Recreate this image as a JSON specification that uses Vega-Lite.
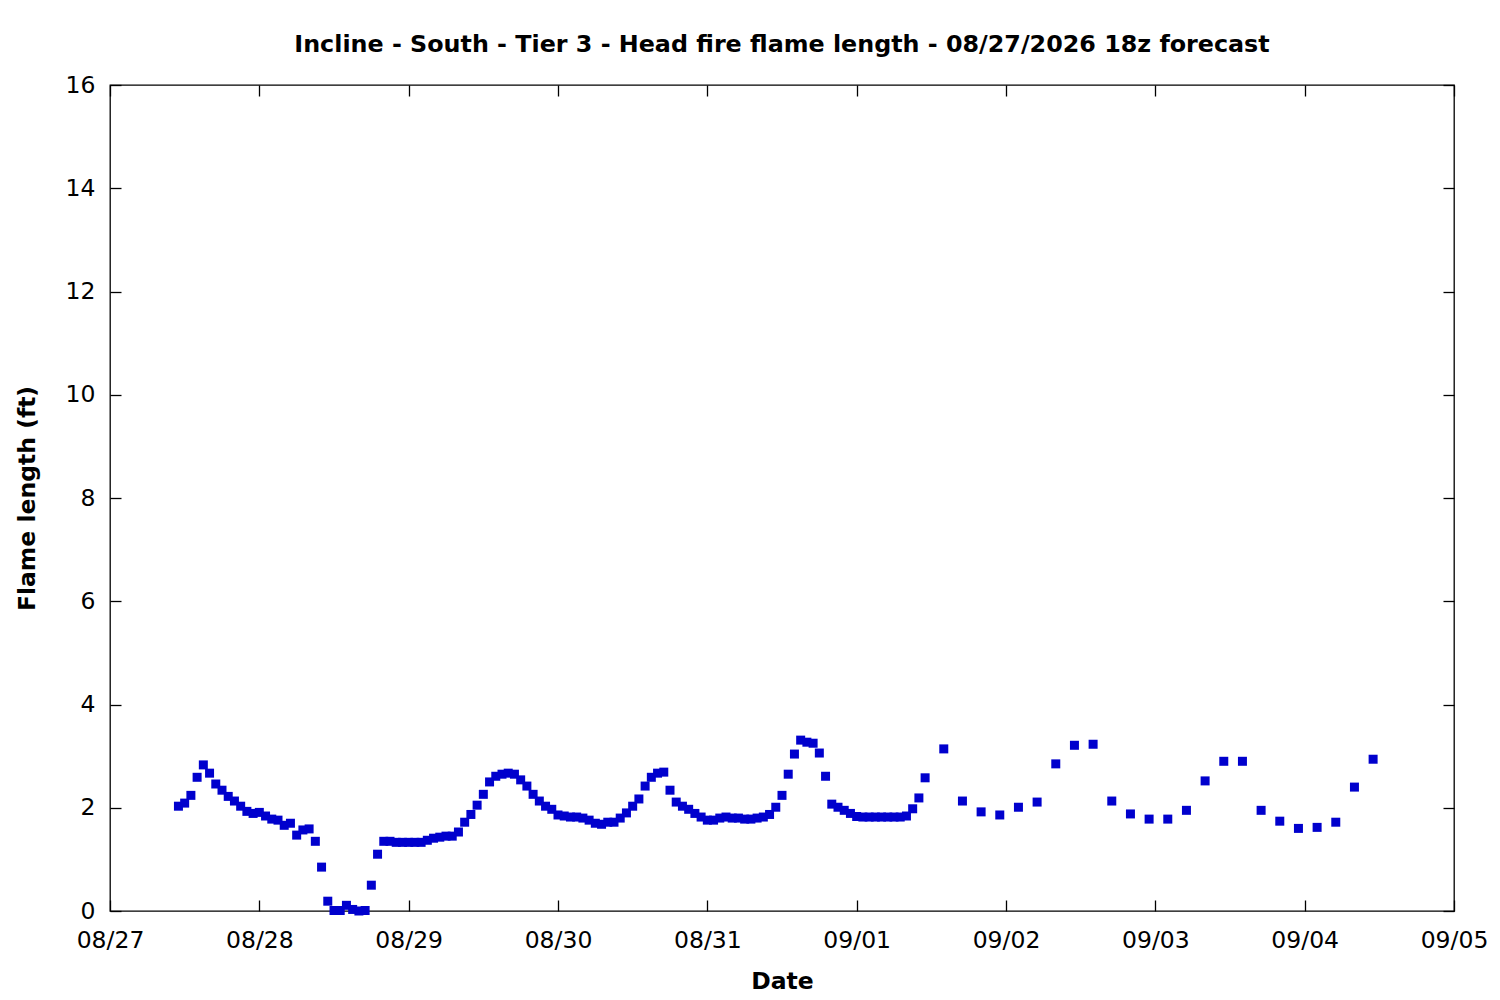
{
  "$schema": "https://vega.github.io/schema/vega-lite/v6.json",
  "width": 1344,
  "height": 826,
  "autosize": "none",
  "padding": {"left": 110, "top": 85, "right": 46, "bottom": 89},
  "background": "white",
  "title": {
    "text": "Incline - South - Tier 3 - Head fire flame length - 08/27/2026 18z forecast",
    "font": "DejaVu Sans",
    "fontSize": 23.8,
    "fontWeight": "bold",
    "color": "black",
    "anchor": "middle",
    "offset": 16
  },
  "data": {
    "values": [
      {"t": "2026-08-27T11:00", "v": 2.03}, {"t": "2026-08-27T12:00", "v": 2.09}, {"t": "2026-08-27T13:00", "v": 2.24},
      {"t": "2026-08-27T14:00", "v": 2.59}, {"t": "2026-08-27T15:00", "v": 2.83}, {"t": "2026-08-27T16:00", "v": 2.67},
      {"t": "2026-08-27T17:00", "v": 2.46}, {"t": "2026-08-27T18:00", "v": 2.34}, {"t": "2026-08-27T19:00", "v": 2.22},
      {"t": "2026-08-27T20:00", "v": 2.13}, {"t": "2026-08-27T21:00", "v": 2.03}, {"t": "2026-08-27T22:00", "v": 1.93},
      {"t": "2026-08-27T23:00", "v": 1.89},
      {"t": "2026-08-28T00:00", "v": 1.91}, {"t": "2026-08-28T01:00", "v": 1.84}, {"t": "2026-08-28T02:00", "v": 1.78},
      {"t": "2026-08-28T03:00", "v": 1.76}, {"t": "2026-08-28T04:00", "v": 1.66}, {"t": "2026-08-28T05:00", "v": 1.70},
      {"t": "2026-08-28T06:00", "v": 1.47}, {"t": "2026-08-28T07:00", "v": 1.57}, {"t": "2026-08-28T08:00", "v": 1.59},
      {"t": "2026-08-28T09:00", "v": 1.35}, {"t": "2026-08-28T10:00", "v": 0.85}, {"t": "2026-08-28T11:00", "v": 0.19},
      {"t": "2026-08-28T12:00", "v": 0.01}, {"t": "2026-08-28T13:00", "v": 0.01}, {"t": "2026-08-28T14:00", "v": 0.11},
      {"t": "2026-08-28T15:00", "v": 0.03}, {"t": "2026-08-28T16:00", "v": 0.0}, {"t": "2026-08-28T17:00", "v": 0.01},
      {"t": "2026-08-28T18:00", "v": 0.50}, {"t": "2026-08-28T19:00", "v": 1.10}, {"t": "2026-08-28T20:00", "v": 1.35},
      {"t": "2026-08-28T21:00", "v": 1.35}, {"t": "2026-08-28T22:00", "v": 1.33}, {"t": "2026-08-28T23:00", "v": 1.33},
      {"t": "2026-08-29T00:00", "v": 1.33}, {"t": "2026-08-29T01:00", "v": 1.33}, {"t": "2026-08-29T02:00", "v": 1.33},
      {"t": "2026-08-29T03:00", "v": 1.37}, {"t": "2026-08-29T04:00", "v": 1.41}, {"t": "2026-08-29T05:00", "v": 1.43},
      {"t": "2026-08-29T06:00", "v": 1.45}, {"t": "2026-08-29T07:00", "v": 1.45}, {"t": "2026-08-29T08:00", "v": 1.53},
      {"t": "2026-08-29T09:00", "v": 1.72}, {"t": "2026-08-29T10:00", "v": 1.87}, {"t": "2026-08-29T11:00", "v": 2.05},
      {"t": "2026-08-29T12:00", "v": 2.26}, {"t": "2026-08-29T13:00", "v": 2.50}, {"t": "2026-08-29T14:00", "v": 2.61},
      {"t": "2026-08-29T15:00", "v": 2.65}, {"t": "2026-08-29T16:00", "v": 2.67}, {"t": "2026-08-29T17:00", "v": 2.65},
      {"t": "2026-08-29T18:00", "v": 2.54}, {"t": "2026-08-29T19:00", "v": 2.42}, {"t": "2026-08-29T20:00", "v": 2.26},
      {"t": "2026-08-29T21:00", "v": 2.13}, {"t": "2026-08-29T22:00", "v": 2.03}, {"t": "2026-08-29T23:00", "v": 1.97},
      {"t": "2026-08-30T00:00", "v": 1.86}, {"t": "2026-08-30T01:00", "v": 1.84}, {"t": "2026-08-30T02:00", "v": 1.82},
      {"t": "2026-08-30T03:00", "v": 1.82}, {"t": "2026-08-30T04:00", "v": 1.80}, {"t": "2026-08-30T05:00", "v": 1.76},
      {"t": "2026-08-30T06:00", "v": 1.70}, {"t": "2026-08-30T07:00", "v": 1.68}, {"t": "2026-08-30T08:00", "v": 1.72},
      {"t": "2026-08-30T09:00", "v": 1.72}, {"t": "2026-08-30T10:00", "v": 1.80}, {"t": "2026-08-30T11:00", "v": 1.90},
      {"t": "2026-08-30T12:00", "v": 2.03}, {"t": "2026-08-30T13:00", "v": 2.17}, {"t": "2026-08-30T14:00", "v": 2.42},
      {"t": "2026-08-30T15:00", "v": 2.59}, {"t": "2026-08-30T16:00", "v": 2.67}, {"t": "2026-08-30T17:00", "v": 2.69},
      {"t": "2026-08-30T18:00", "v": 2.34}, {"t": "2026-08-30T19:00", "v": 2.11}, {"t": "2026-08-30T20:00", "v": 2.03},
      {"t": "2026-08-30T21:00", "v": 1.97}, {"t": "2026-08-30T22:00", "v": 1.89}, {"t": "2026-08-30T23:00", "v": 1.82},
      {"t": "2026-08-31T00:00", "v": 1.76}, {"t": "2026-08-31T01:00", "v": 1.76}, {"t": "2026-08-31T02:00", "v": 1.80},
      {"t": "2026-08-31T03:00", "v": 1.82}, {"t": "2026-08-31T04:00", "v": 1.80}, {"t": "2026-08-31T05:00", "v": 1.80},
      {"t": "2026-08-31T06:00", "v": 1.78}, {"t": "2026-08-31T07:00", "v": 1.78}, {"t": "2026-08-31T08:00", "v": 1.80},
      {"t": "2026-08-31T09:00", "v": 1.82}, {"t": "2026-08-31T10:00", "v": 1.87}, {"t": "2026-08-31T11:00", "v": 2.01},
      {"t": "2026-08-31T12:00", "v": 2.24}, {"t": "2026-08-31T13:00", "v": 2.65}, {"t": "2026-08-31T14:00", "v": 3.04},
      {"t": "2026-08-31T15:00", "v": 3.31}, {"t": "2026-08-31T16:00", "v": 3.27}, {"t": "2026-08-31T17:00", "v": 3.25},
      {"t": "2026-08-31T18:00", "v": 3.06}, {"t": "2026-08-31T19:00", "v": 2.61}, {"t": "2026-08-31T20:00", "v": 2.07},
      {"t": "2026-08-31T21:00", "v": 2.01}, {"t": "2026-08-31T22:00", "v": 1.95}, {"t": "2026-08-31T23:00", "v": 1.89},
      {"t": "2026-09-01T00:00", "v": 1.83}, {"t": "2026-09-01T01:00", "v": 1.82}, {"t": "2026-09-01T02:00", "v": 1.82},
      {"t": "2026-09-01T03:00", "v": 1.82}, {"t": "2026-09-01T04:00", "v": 1.82}, {"t": "2026-09-01T05:00", "v": 1.82},
      {"t": "2026-09-01T06:00", "v": 1.82}, {"t": "2026-09-01T07:00", "v": 1.82}, {"t": "2026-09-01T08:00", "v": 1.84},
      {"t": "2026-09-01T09:00", "v": 1.98}, {"t": "2026-09-01T10:00", "v": 2.19}, {"t": "2026-09-01T11:00", "v": 2.58},
      {"t": "2026-09-01T14:00", "v": 3.14}, {"t": "2026-09-01T17:00", "v": 2.13}, {"t": "2026-09-01T20:00", "v": 1.92},
      {"t": "2026-09-01T23:00", "v": 1.86},
      {"t": "2026-09-02T02:00", "v": 2.01}, {"t": "2026-09-02T05:00", "v": 2.11}, {"t": "2026-09-02T08:00", "v": 2.85},
      {"t": "2026-09-02T11:00", "v": 3.21}, {"t": "2026-09-02T14:00", "v": 3.23}, {"t": "2026-09-02T17:00", "v": 2.13},
      {"t": "2026-09-02T20:00", "v": 1.88}, {"t": "2026-09-02T23:00", "v": 1.78},
      {"t": "2026-09-03T02:00", "v": 1.78}, {"t": "2026-09-03T05:00", "v": 1.95}, {"t": "2026-09-03T08:00", "v": 2.52},
      {"t": "2026-09-03T11:00", "v": 2.90}, {"t": "2026-09-03T14:00", "v": 2.90}, {"t": "2026-09-03T17:00", "v": 1.95},
      {"t": "2026-09-03T20:00", "v": 1.74}, {"t": "2026-09-03T23:00", "v": 1.60},
      {"t": "2026-09-04T02:00", "v": 1.62}, {"t": "2026-09-04T05:00", "v": 1.72}, {"t": "2026-09-04T08:00", "v": 2.40},
      {"t": "2026-09-04T11:00", "v": 2.94}
    ]
  },
  "layer": [
    {
      "mark": {"type": "square", "size": 81, "filled": true, "color": "#0000cd", "opacity": 1},
      "encoding": {
        "x": {
          "field": "t",
          "type": "temporal",
          "scale": {"domain": [{"year": 2026, "month": 8, "date": 27}, {"year": 2026, "month": 9, "date": 5}]},
          "axis": {
            "orient": "bottom",
            "title": "Date",
            "format": "%m/%d",
            "tickCount": {"interval": "day", "step": 1},
            "tickSize": -11,
            "labelPadding": 28,
            "titlePadding": 18,
            "labelFlush": false,
            "labelOverlap": false
          }
        },
        "y": {
          "field": "v",
          "type": "quantitative",
          "scale": {"domain": [0, 16], "nice": false},
          "axis": {
            "orient": "left",
            "title": "Flame length (ft)",
            "values": [0, 2, 4, 6, 8, 10, 12, 14, 16],
            "tickSize": -11,
            "labelPadding": 26,
            "titlePadding": 26
          }
        }
      }
    },
    {
      "mark": {"type": "square", "size": 81, "opacity": 0},
      "encoding": {
        "x": {
          "field": "t",
          "type": "temporal",
          "axis": {
            "orient": "top",
            "title": null,
            "labels": false,
            "tickCount": {"interval": "day", "step": 1},
            "tickSize": -11
          }
        },
        "y": {
          "field": "v",
          "type": "quantitative",
          "axis": {
            "orient": "right",
            "title": null,
            "labels": false,
            "values": [0, 2, 4, 6, 8, 10, 12, 14, 16],
            "tickSize": -11
          }
        }
      }
    }
  ],
  "resolve": {"axis": {"x": "independent", "y": "independent"}},
  "config": {
    "view": {"stroke": "black", "strokeWidth": 1.3},
    "axis": {
      "grid": false,
      "domain": false,
      "tickColor": "black",
      "tickWidth": 1.3,
      "labelFont": "DejaVu Sans",
      "labelFontSize": 23.5,
      "labelColor": "black",
      "titleFont": "DejaVu Sans",
      "titleFontSize": 23.5,
      "titleFontWeight": "bold",
      "titleColor": "black"
    }
  }
}
